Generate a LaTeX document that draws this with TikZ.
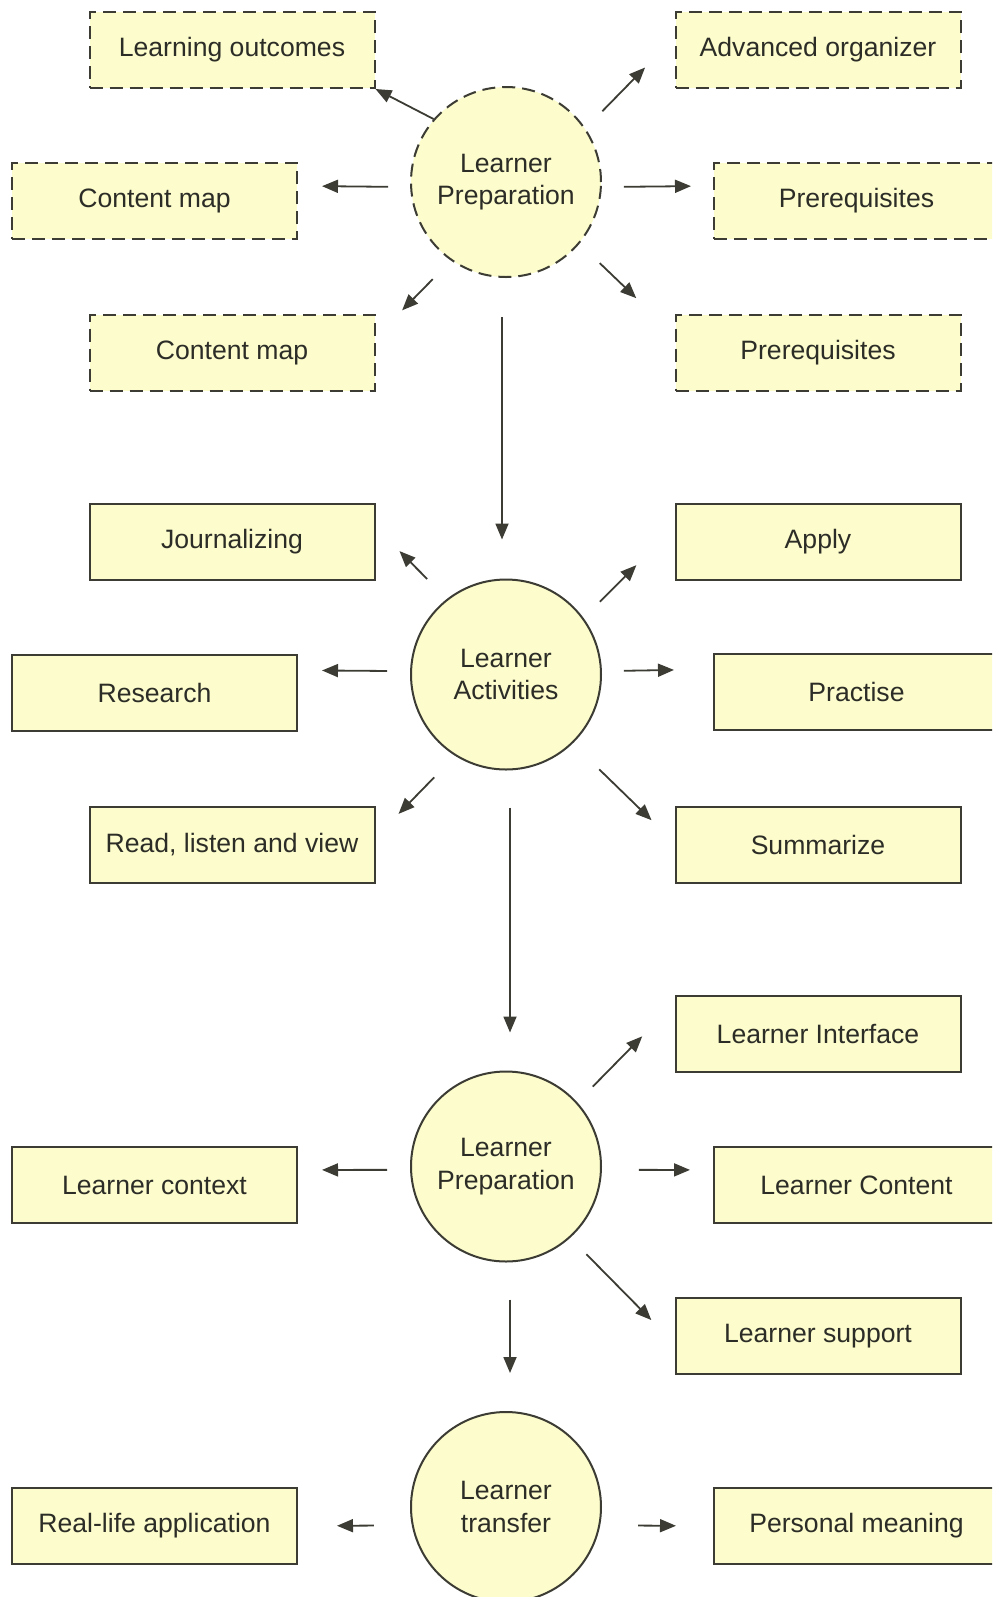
\documentclass[tikz,border=0pt]{standalone}
\usepackage{fontspec}
\setmainfont{Liberation Sans}
\usetikzlibrary{arrows.meta}
\definecolor{paleyellow}{RGB}{252,252,204}
\definecolor{edgegray}{RGB}{60,60,52}
\definecolor{textgray}{RGB}{45,45,40}
\begin{document}
\begin{tikzpicture}[x=0.5pt, y=-0.5pt, line width=0.9pt, >={Triangle[length=8pt,width=6.5pt]},
main node/.style={circle,draw=edgegray,fill=paleyellow,minimum size=95pt,inner sep=0pt,align=center,line width=1pt},
box node/.style={rectangle,draw=edgegray,fill=paleyellow,minimum width=142.5pt,minimum height=38pt,inner sep=0pt,line width=1pt},
draft/.style={dash pattern=on 6.5pt off 3.5pt}]
\clip (0,0) rectangle (992,1597);
\begin{scope}[every node/.style={font=\fontsize{13.3}{16.3}\selectfont,text=textgray}]
% learner preparation
\node [main node,draft](c1) at (506,182) {Learner\\Preparation};
\node [box node,draft](outc) at (232,50) {Learning outcomes};
\node [box node,draft](adv) at (818,50) {Advanced organizer};
\node [box node,draft](cmap) at (154.5,201) {Content map};
\node [box node,draft](prereq) at (856.5,201) {Prerequisites};
\node [box node,draft](cmapb) at (232,352.5) {Content map};
\node [box node,draft](prereqb) at (818,352.5) {Prerequisites};
% learner activities
\node [main node](c2) at (506,674.5) {Learner\\Activities};
\node [box node](journ) at (232,542) {Journalizing};
\node [box node](apply) at (818,542) {Apply};
\node [box node](research) at (154.5,693) {Research};
\node [box node](practise) at (856.5,692) {Practise};
\node [box node](read) at (232,845) {Read, listen and view};
\node [box node](summ) at (818,845) {Summarize};
% learner preparation, second
\node [main node](c3) at (506,1166.5) {Learner\\Preparation};
\node [box node](interf) at (818,1034) {Learner Interface};
\node [box node](context) at (154.5,1185) {Learner context};
\node [box node](content) at (856.5,1185) {Learner Content};
\node [box node](support) at (818,1336) {Learner support};
% learner transfer
\node [main node](c4) at (506,1507) {Learner\\transfer};
\node [box node](reallife) at (154.5,1526) {Real-life application};
\node [box node](meaning) at (856.5,1526) {Personal meaning};
\end{scope}
\begin{scope}[draw=edgegray]
\draw [->] (c1.139) -- (outc.south east);
\draw [->, shorten <=12pt, shorten >=21pt] (c1.34) -- (adv.175);
\draw [->, shorten <=11pt, shorten >=12pt] (c1.183) -- (cmap.6);
\draw [->, shorten <=11pt, shorten >=11pt] (c1.357) -- (prereq.174);
\draw [->, shorten <=13pt, shorten >=19pt] (c1.235) -- (cmapb.6);
\draw [->, shorten <=14pt, shorten >=26.5pt] (c1.320) -- (prereqb.173);
\draw [->, shorten <=19.5pt, shorten >=19.5pt] ([xshift=-2pt]c1.south) -- ([xshift=-2pt]c2.north);
\draw [->, shorten <=14pt, shorten >=17pt] (c2.128) -- (journ.6);
\draw [->, shorten <=11.5pt, shorten >=27pt] (c2.36) -- (apply.174);
\draw [->, shorten <=11.5pt, shorten >=12pt] (c2.178) -- (research.9);
\draw [->, shorten <=11pt, shorten >=19.5pt] (c2.2) -- (practise.171);
\draw [->, shorten <=15pt, shorten >=16.5pt] (c2.238) -- (read.3);
\draw [->, shorten <=18.5pt, shorten >=16pt] (c2.314) -- (summ.179);
\draw [->, shorten <=18.5pt, shorten >=19pt] ([xshift=2pt]c2.south) -- ([xshift=2pt]c3.north);
\draw [->, shorten <=11pt, shorten >=23pt] (c3.42) -- (interf.168);
\draw [->, shorten <=11.5pt, shorten >=12pt] (c3.182) -- (context.6);
\draw [->, shorten <=18.5pt, shorten >=11.5pt] (c3.358) -- (content.174);
\draw [->, shorten <=11.5pt, shorten >=16.5pt] (c3.312) -- (support.183);
\draw [->, shorten <=18.5pt, shorten >=19pt] ([xshift=2pt]c3.south) -- ([xshift=2pt]c4.north);
\draw [->, shorten <=19pt, shorten >=19.5pt] (c4.191) -- (reallife.east);
\draw [->, shorten <=19pt, shorten >=18.5pt] (c4.349) -- (meaning.west);
\end{scope}
\end{tikzpicture}
\end{document}
